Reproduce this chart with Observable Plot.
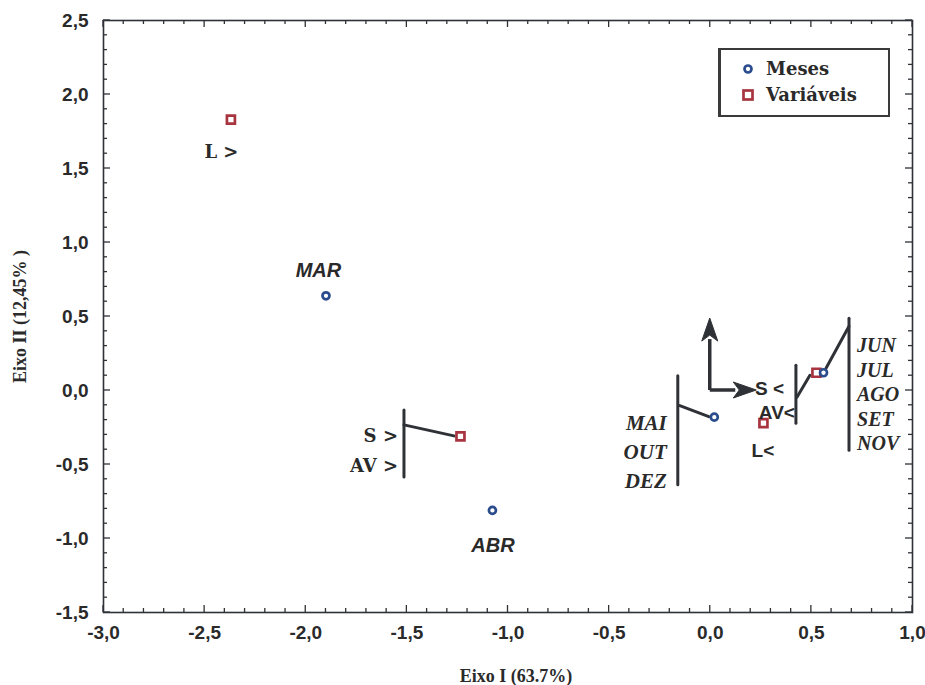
<!DOCTYPE html>
<html><head><meta charset="utf-8">
<script src="https://cdn.jsdelivr.net/npm/d3@7"></script>
<script src="https://cdn.jsdelivr.net/npm/@observablehq/plot@0.6"></script>
<style>
body{margin:0;background:#fff;}
#chart{position:relative;width:925px;height:685px;}
.legend{position:absolute;left:718px;top:48px;width:172px;height:69px;border:2px solid #3a3a3a;border-left-width:3px;box-sizing:border-box;font-family:"DejaVu Serif",serif;font-weight:bold;font-size:18px;color:#2a2a2a;background:#fff}
.legend .row{position:absolute;left:20px;display:flex;align-items:center;gap:11px}
</style></head><body><div id="chart"></div>
<script>
// ---- data ----
const xTicks = [-3, -2.5, -2, -1.5, -1, -0.5, 0, 0.5, 1];
const yTicks = [-1.5, -1, -0.5, 0, 0.5, 1, 1.5, 2, 2.5];
const monthLabels = [["MAR"], ["ABR"], ["MAI", "OUT", "DEZ"], ["JUN", "JUL", "AGO", "SET", "NOV"]];
const monthX = [-1.90, -1.077, 0.02, 0.56];
const monthY = [0.64, -0.81, -0.18, 0.12];
const varLabels = [["L >"], ["S >", "AV >"], ["L<"], ["S <", "AV<"]];
const varX = [-2.37, -1.235, 0.263, 0.525];
const varY = [1.83, -0.31, -0.22, 0.12];
const arrowX1 = [0, 0], arrowY1 = [0, 0];
const arrowX2 = [0, 0.23], arrowY2 = [0.486, 0];
const legendNames = ["Meses", "Variáveis"];
const xTitle = "Eixo I (63.7%)";
const yTitle = "Eixo II (12,45% )";

// ---- tables ----
const months = monthX.map((x, i) => ({x, y: monthY[i], labels: monthLabels[i]}));
const vars = varX.map((x, i) => ({x, y: varY[i], labels: varLabels[i]}));

const blue = "#2b4c8c", red = "#a83440", ink = "#2e3136";
const fmt = d => d.toFixed(1).replace(".", ",");

// label layout (pixel offsets from the point) & fonts
const SANS = "Liberation Sans, Arial, sans-serif", SERIF = "Liberation Serif, Times New Roman, serif", WSERIF = "DejaVu Serif, serif";
const labelSpecs = [
  {src: months, i: 0, dx: -7, dy0: -25, step: 0, anchor: "middle", family: SANS, style: "italic", size: 20},
  {src: months, i: 1, dx: 1, dy0: 35, step: 0, anchor: "middle", family: SANS, style: "italic", size: 20},
  {src: months, i: 2, dx: -47, dy0: 6, step: 29, anchor: "end", family: SERIF, style: "italic", size: 21},
  {src: months, i: 3, dx: 34, dy0: -27, step: 24.5, anchor: "start", family: SERIF, style: "italic", size: 20},
  {src: vars, i: 0, dx: -9, dy0: 33, step: 0, anchor: "middle", family: WSERIF, style: "normal", size: 18},
  {src: vars, i: 1, dx: -62, dy0: 1, step: 30, anchor: "end", family: WSERIF, style: "normal", size: 18},
  {src: vars, i: 2, dx: 0, dy0: 28, step: 0, anchor: "middle", family: SANS, style: "normal", size: 19},
  {src: vars, i: 3, dx: -61, dy0: 17, step: 0, anchor: "start", family: SANS, style: "normal", size: 19}
];
const labelRows = [];
labelSpecs.forEach(s => {
  const p = s.src[s.i];
  p.labels.forEach((t, k) => {
    let dx = s.dx, anchor = s.anchor, dy = s.dy0 + k * s.step;
    if (s.src === vars && s.i === 3 && k === 1) { dx = -21; dy = 41; anchor = "end"; }
    labelRows.push({x: p.x, y: p.y, text: t, dx, dy, anchor, family: s.family, fstyle: s.style, size: s.size});
  });
});

// brackets: point, vertical offset, its extent, connector (pixel offsets from the point)
const bracketSpecs = [
  {p: vars[1], vx: -56, vy1: -26, vy2: 41, c: [-56, -11, -6, 0]},
  {p: months[2], vx: -36, vy1: -41, vy2: 68, c: [-34, -11, -5, 0]},
  {p: vars[3], vx: -20, vy1: -7, vy2: 51, c: [-19, 25, -6, 3]},
  {p: months[3], vx: 26, vy1: -54, vy2: 78, c: [26, -46, 3, -4]}
];

function decorations(index, scales, values, dim) {
  const svg = d3.create("svg:g");
  const X = scales.x, Y = scales.y;
  const x0 = dim.marginLeft, x1 = dim.width - dim.marginRight;
  const y0 = dim.marginTop, y1 = dim.height - dim.marginBottom;
  const tg = svg.append("g").attr("stroke", ink).attr("stroke-width", 1.3);
  for (let k = -30; k <= 10; k++) {
    const v = k / 10, px = X(v), L = (k % 5 === 0) ? 7 : 4;
    tg.append("line").attr("x1", px).attr("x2", px).attr("y1", y1).attr("y2", y1 - L);
    tg.append("line").attr("x1", px).attr("x2", px).attr("y1", y0).attr("y2", y0 + L);
  }
  for (let k = -15; k <= 25; k++) {
    const v = k / 10, py = Y(v), L = (k % 5 === 0) ? 7 : 4;
    tg.append("line").attr("y1", py).attr("y2", py).attr("x1", x0).attr("x2", x0 + L);
    tg.append("line").attr("y1", py).attr("y2", py).attr("x1", x1).attr("x2", x1 - L);
  }
  const bg = svg.append("g").attr("stroke", ink).attr("stroke-width", 3).attr("fill", "none").attr("stroke-linecap", "round");
  bracketSpecs.forEach(b => {
    const px = X(b.p.x), py = Y(b.p.y);
    bg.append("line").attr("x1", px + b.vx).attr("x2", px + b.vx).attr("y1", py + b.vy1).attr("y2", py + b.vy2);
    bg.append("line").attr("x1", px + b.c[0]).attr("y1", py + b.c[1]).attr("x2", px + b.c[2]).attr("y2", py + b.c[3]);
  });
  const ag = svg.append("g").attr("stroke", ink).attr("fill", ink);
  arrowX1.forEach((_, i) => {
    const ax = X(arrowX1[i]), ay = Y(arrowY1[i]), bx = X(arrowX2[i]), by = Y(arrowY2[i]);
    const len = Math.hypot(bx - ax, by - ay), ux = (bx - ax) / len, uy = (by - ay) / len;
    const hl = 23, hw = 8;
    const cx = bx - ux * hl, cy = by - uy * hl;
    ag.append("line").attr("x1", ax).attr("y1", ay).attr("x2", cx + ux * 2).attr("y2", cy + uy * 2).attr("stroke-width", 3.5);
    ag.append("path").attr("stroke-width", 1).attr("stroke-linejoin", "round")
      .attr("d", `M${bx},${by}L${cx - uy * hw},${cy + ux * hw}L${cx + ux * 6},${cy + uy * 6}L${cx + uy * hw},${cy - ux * hw}Z`);
  });
  return svg.node();
}

const plot = Plot.plot({
  width: 925, height: 685,
  marginLeft: 103, marginRight: 13, marginTop: 20, marginBottom: 73,
  style: {fontFamily: SANS, fontSize: "19px", fontWeight: "bold", color: "#2a2a2a", background: "#fff"},
  x: {domain: [-3, 1]},
  y: {domain: [-1.5, 2.5]},
  marks: [
    Plot.frame({stroke: ink, strokeWidth: 1.6}),
    Plot.axisX(xTicks, {anchor: "bottom", tickSize: 0, tickPadding: 13, tickFormat: fmt, label: null}),
    Plot.axisY(yTicks, {anchor: "left", tickSize: 0, tickPadding: 15, tickFormat: fmt, label: null}),
    decorations,
    Plot.dot(vars, {x: "x", y: "y", symbol: "square", r: 4.5, stroke: red, strokeWidth: 2.7, fill: "white"}),
    Plot.dot(months, {x: "x", y: "y", r: 3.5, stroke: blue, strokeWidth: 2.7, fill: "white"}),
    Plot.text(labelRows, {x: "x", y: "y", text: "text"}),
    Plot.text([xTitle], {frameAnchor: "bottom", dy: 64, dx: 8, lineAnchor: "middle", textAnchor: "middle", text: d => d, fontFamily: SERIF, fontSize: 18, fill: "#2a2a2a"}),
    Plot.text([yTitle], {frameAnchor: "left", dx: -83, dy: 0, rotate: -90, textAnchor: "middle", lineAnchor: "middle", text: d => d, fontFamily: SERIF, fontSize: 18, fill: "#2a2a2a"})
  ]
});

// apply per-label offsets / anchor / font
const textGroup = plot.querySelectorAll("g[aria-label='text']")[0];
if (textGroup) {
  textGroup.removeAttribute("transform");
  textGroup.querySelectorAll("text").forEach((t, i) => {
    const r = labelRows[i];
    const tr = t.getAttribute("transform") || "";
    const m = tr.match(/translate\(([-\d.e]+),([-\d.e]+)\)/);
    let x = 0, y = 0;
    if (m) { x = +m[1]; y = +m[2]; } else { x = +t.getAttribute("x"); y = +t.getAttribute("y"); t.removeAttribute("x"); t.removeAttribute("y"); }
    t.setAttribute("transform", `translate(${x + r.dx},${y + r.dy - 6.5})`);
    t.setAttribute("text-anchor", r.anchor);
    t.setAttribute("font-family", r.family);
    t.setAttribute("font-style", r.fstyle);
    t.setAttribute("font-size", r.size);
    t.setAttribute("dy", "0.35em");
    t.setAttribute("fill", "#2a2a2a");
  });
}

const chart = document.getElementById("chart");
chart.appendChild(plot);
const legend = document.createElement("div");
legend.className = "legend";
legendNames.forEach((n, i) => {
  const row = document.createElement("div");
  row.className = "row";
  row.style.top = (i === 0 ? 8 : 34) + "px";
  const sym = i === 0
    ? `<svg width="14" height="14"><circle cx="7" cy="7" r="3.5" fill="white" stroke="${blue}" stroke-width="2.7"/></svg>`
    : `<svg width="14" height="14"><rect x="2.5" y="2.5" width="9" height="9" fill="white" stroke="${red}" stroke-width="2.7"/></svg>`;
  row.innerHTML = sym + `<span>${n}</span>`;
  legend.appendChild(row);
});
chart.appendChild(legend);
</script></body></html>
